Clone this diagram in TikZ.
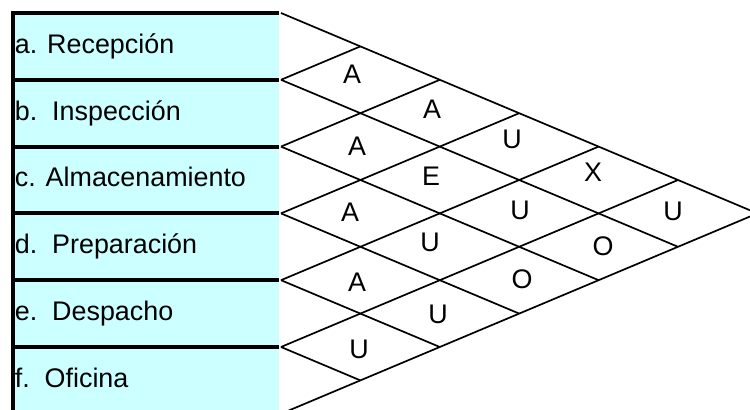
\documentclass[tikz,border=0pt]{standalone}
\usepackage{fontspec}
\setmainfont{Liberation Sans}
\usepackage{xcolor}
\usetikzlibrary{calc}
\definecolor{deptfill}{HTML}{CCFFFF}

\begin{document}
\begin{tikzpicture}[font=\fontsize{15.3}{18}\selectfont,
    sep/.style={line width=0.08cm, black},
    grid/.style={line width=0.034cm, black},
    dept/.style={anchor=base west, inner sep=0pt},
    rel/.style={inner sep=0pt}]
  \useasboundingbox (0,0) rectangle (15,8.2);
  \clip (0,0) rectangle (15,8.2);
  \fill[deptfill] (0.26,0) rectangle (5.58,7.94);
  % department rows
  \foreach \k/\name/\txt in {0/rec/a. Recepción, 1/ins/b.\ \ Inspección,
      2/alm/c. Almacenamiento, 3/pre/d.\ \ Preparación,
      4/des/e.\ \ Despacho, 5/ofi/f.\ \ Oficina}
    \node[dept] (\name) at (0.29, {7.94-1.336*(\k+0.5)-0.14}) {\txt};
  \foreach \k in {0,...,5}
    \draw[sep] (0.22, {7.94-1.336*\k}) -- (5.58, {7.94-1.336*\k});
  \draw[sep] (0.26,7.98) -- (0.26,0);
  % relationship chart
  \foreach \k in {0,...,6}
    \coordinate (p\k) at (5.62, {7.94-1.336*\k});
  \foreach \k in {0,...,6} {
    \draw[grid] (p\k) -- ++({(6-\k)*1.588}, {-(6-\k)*0.668});
    \draw[grid] (p\k) -- ++({\k*1.588}, {\k*0.668});
  }
  \foreach \nm/\x/\y/\r in {ab/7.04/6.72/A, ac/8.64/6.02/A, ad/10.24/5.42/U,
      bc/7.14/5.28/A, bd/8.62/4.68/E, be/10.40/4.00/U,
      cd/7.00/3.96/A, ce/8.60/3.36/U, cf/10.44/2.62/O,
      de/7.14/2.56/A, df/8.76/1.92/U, ef/7.18/1.22/U,
      ae/11.86/4.76/X, bf/12.06/3.28/O, af/13.46/3.98/U}
    \node[rel] (r\nm) at (\x,\y) {\r};
\end{tikzpicture}
\end{document}
